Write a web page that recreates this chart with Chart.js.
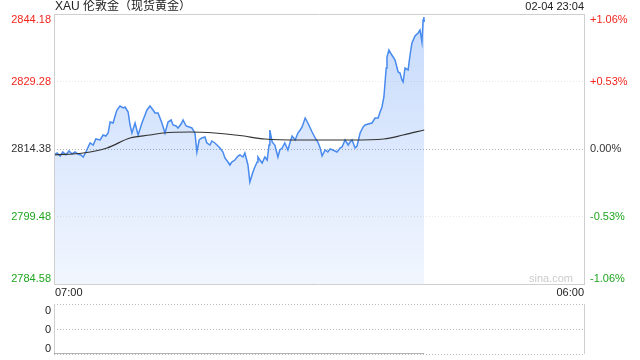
<!DOCTYPE html>
<html>
<head>
<meta charset="utf-8">
<script src="https://cdn.jsdelivr.net/npm/chart.js@4/dist/chart.umd.min.js"></script>
<style>
html,body{margin:0;padding:0;background:#fff;}
#wrap{position:relative;width:640px;height:360px;}
#main{position:absolute;left:0;top:0;}
#sub{position:absolute;left:0;top:300px;}
</style>
</head>
<body>
<div id="wrap">
<canvas id="main" width="640" height="300"></canvas>
<canvas id="sub" width="640" height="60"></canvas>
</div>
<script>
// 标题与刻度
var title = 'XAU 伦敦金（现货黄金）';
var lastTime = '02-04 23:04';
var xLabels = ['07:00', '06:00'];
var priceTicks = [2844.18, 2829.28, 2814.38, 2799.48, 2784.58];
var pctTicks = ['+1.06%', '+0.53%', '0.00%', '-0.53%', '-1.06%'];
var volTicks = ['0', '0', '0'];

// 分时价格
var times = ['07:00','07:08','07:16','07:23','07:31','07:39','07:47','07:55','08:02','08:10',
  '08:16','08:23','08:34','08:42','08:49','09:00','09:08','09:15','09:21','09:26',
  '09:34','09:39','09:44','09:52','10:00','10:05','10:13','10:18','10:23','10:31',
  '10:39','10:49','10:57','11:02','11:10','11:18','11:23','11:31','11:41','11:49',
  '11:57','12:05','12:10','12:18','12:23','12:31','12:36','12:44','12:52','12:59',
  '13:07','13:12','13:18','13:25','13:33','13:38','13:46','13:51','13:59','14:07',
  '14:12','14:20','14:25','14:33','14:38','14:43','14:51','14:59','15:04','15:12',
  '15:17','15:25','15:30','15:38','15:43','15:49','15:51','15:56','16:02','16:09',
  '16:15','16:20','16:22','16:28','16:35','16:43','16:48','16:54','17:01','17:09',
  '17:15','17:20','17:28','17:35','17:41','17:46','17:54','18:01','18:12','18:20',
  '18:27','18:33','18:38','18:46','18:53','18:59','19:06','19:17','19:25','19:30',
  '19:38','19:46','19:51','19:56','20:04','20:09','20:17','20:25','20:30','20:38',
  '20:48','20:56','21:04','21:09','21:14','21:19','21:25','21:27','21:32','21:38',
  '21:43','21:48','21:56','22:01','22:06','22:09','22:14','22:22','22:27','22:32',
  '22:40','22:48','22:53','22:58','23:01','23:03','23:04'];
var prices = [2813.06,2813.50,2812.84,2813.72,2813.06,2813.94,2813.28,2813.72,2813.28,2813.06,
  2812.61,2813.72,2815.71,2815.26,2816.59,2816.37,2817.47,2817.25,2817.91,2820.34,
  2820.12,2821.66,2822.99,2823.87,2823.43,2823.65,2822.55,2819.68,2817.91,2820.12,
  2817.47,2820.12,2821.89,2822.99,2823.87,2822.99,2822.33,2822.33,2820.12,2817.91,
  2820.34,2820.78,2819.68,2819.46,2819.02,2819.90,2820.78,2819.46,2819.24,2819.02,
  2817.91,2813.72,2816.37,2816.81,2817.03,2815.71,2815.26,2816.15,2815.71,2815.04,
  2814.60,2813.72,2812.39,2811.51,2810.85,2811.51,2811.95,2812.84,2813.06,2812.61,
  2813.50,2810.85,2807.10,2809.30,2810.41,2811.51,2812.61,2811.95,2811.29,2812.61,
  2811.95,2815.26,2818.57,2815.93,2815.26,2812.61,2814.16,2814.60,2815.71,2814.16,
  2815.93,2817.25,2816.37,2817.91,2818.57,2819.24,2821.22,2820.12,2818.13,2816.81,
  2815.93,2814.60,2812.84,2814.16,2813.72,2814.38,2814.16,2813.72,2814.60,2814.82,
  2816.37,2815.26,2815.93,2816.37,2814.60,2815.04,2817.91,2819.24,2819.68,2819.90,
  2820.12,2821.22,2821.22,2822.55,2823.65,2825.86,2832.26,2834.69,2836.23,2835.35,
  2834.69,2834.03,2831.38,2831.16,2829.61,2829.17,2832.26,2831.82,2835.13,2837.78,
  2839.32,2839.99,2840.65,2838.00,2842.86,2843.52,2842.41];

// 均价线
var avgTimes = ['07:00','08:16','09:18','10:18','11:10','11:44','12:54','13:59','15:04','16:09','17:41','19:56','21:19','22:09','23:04'];
var avgPrices = [2813.06,2813.50,2814.60,2816.81,2817.47,2817.91,2818.13,2817.91,2817.36,2816.59,2816.37,2816.37,2816.59,2817.47,2818.57];

// 成交量
var volTimes = ['07:00', '23:04'];
var volValues = [0, 0];

var FONT = 'Arial, "Liberation Sans", "Noto Sans CJK SC", sans-serif';
var RED = '#f0261d', GREEN = '#1fa51f', DARK = '#333333';

function toMin(t)
{
    var p = t.split(':');
    var m = parseInt(p[0], 10) * 60 + parseInt(p[1], 10) - 420;
    if (m < 0) m += 1440;
    return m;
}
function pairs(ts, vs)
{
    var out = [];
    for (var i = 0; i < ts.length; i++) out.push({x: toMin(ts[i]), y: vs[i]});
    return out;
}
function tickColor(i)
{
    if (priceTicks[i] > priceTicks[2]) return RED;
    if (priceTicks[i] < priceTicks[2]) return GREEN;
    return DARK;
}
function hline(ctx, x1, x2, y, color, dash)
{
    ctx.save();
    ctx.strokeStyle = color;
    ctx.lineWidth = 1;
    ctx.setLineDash(dash || []);
    ctx.beginPath();
    ctx.moveTo(x1, Math.round(y) + 0.5);
    ctx.lineTo(x2, Math.round(y) + 0.5);
    ctx.stroke();
    ctx.restore();
}
function vline(ctx, x, y1, y2, color)
{
    ctx.save();
    ctx.strokeStyle = color;
    ctx.lineWidth = 1;
    ctx.beginPath();
    ctx.moveTo(Math.round(x) + 0.5, y1);
    ctx.lineTo(Math.round(x) + 0.5, y2);
    ctx.stroke();
    ctx.restore();
}

var xMax = toMin(xLabels[1]);

// 主图网格与文字
var mainDeco = {
    id: 'mainDeco',
    beforeDatasetsDraw: function (chart)
    {
        var ctx = chart.ctx, a = chart.chartArea, ys = chart.scales.y;
        for (var i = 1; i < priceTicks.length - 1; i++)
        {
            var c = (i == 2) ? '#b0b0b0' : '#e8e8e8';
            hline(ctx, a.left, a.right + 1, ys.getPixelForValue(priceTicks[i]), c, [1, 2]);
        }
    },
    afterDraw: function (chart)
    {
        var ctx = chart.ctx, a = chart.chartArea, ys = chart.scales.y;
        // 边框
        hline(ctx, a.left, a.right + 1, a.top, '#cfcfcf');
        hline(ctx, a.left, a.right + 1, a.bottom, '#cfcfcf');
        vline(ctx, a.left, a.top, a.bottom, '#cfcfcf');
        vline(ctx, a.right, a.top, a.bottom, '#cfcfcf');

        ctx.save();
        ctx.font = '12px ' + FONT;
        ctx.fillStyle = '#222';
        ctx.textAlign = 'left';
        ctx.textBaseline = 'middle';
        ctx.fillText(title, a.left + 1, 7);
        ctx.font = '11px ' + FONT;
        ctx.textAlign = 'right';
        ctx.fillText(lastTime, a.right, 7);

        for (var i = 0; i < priceTicks.length; i++)
        {
            var py = ys.getPixelForValue(priceTicks[i]);
            var base = 'middle';
            if (i == 0) base = 'top';
            if (i == priceTicks.length - 1) base = 'bottom';
            ctx.textBaseline = base;
            ctx.fillStyle = tickColor(i);
            ctx.textAlign = 'right';
            ctx.fillText(priceTicks[i].toFixed(2), a.left - 3, py);
            ctx.textAlign = 'left';
            ctx.fillText(pctTicks[i], a.right + 6, py);
        }

        ctx.fillStyle = '#222';
        ctx.textBaseline = 'middle';
        ctx.textAlign = 'left';
        ctx.fillText(xLabels[0], a.left + 1, a.bottom + 9);
        ctx.textAlign = 'right';
        ctx.fillText(xLabels[1], a.right, a.bottom + 9);

        ctx.fillStyle = '#cccccc';
        ctx.fillText('sina.com', a.right - 11, a.bottom - 5);
        ctx.restore();
    }
};

new Chart(document.getElementById('main'), {
    type: 'line',
    data: {
        datasets: [
            {
                label: 'avg',
                data: pairs(avgTimes, avgPrices),
                borderColor: '#333333',
                borderWidth: 1.2,
                pointRadius: 0,
                cubicInterpolationMode: 'monotone',
                fill: false,
                order: 0
            },
            {
                label: 'price',
                data: pairs(times, prices),
                borderColor: 'rgb(72,138,238)',
                borderWidth: 1.5,
                pointRadius: 0,
                tension: 0,
                fill: 'start',
                order: 1,
                backgroundColor: function (context)
                {
                    var a = context.chart.chartArea;
                    if (!a) return 'rgba(66,133,244,0.15)';
                    var g = context.chart.ctx.createLinearGradient(0, a.top, 0, a.bottom);
                    g.addColorStop(0, 'rgba(66,133,244,0.30)');
                    g.addColorStop(1, 'rgba(66,133,244,0.07)');
                    return g;
                }
            }
        ]
    },
    options: {
        responsive: false,
        animation: false,
        devicePixelRatio: 1,
        layout: {padding: {left: 54, right: 56, top: 14, bottom: 16}},
        plugins: {legend: {display: false}, tooltip: {enabled: false}},
        scales: {
            x: {type: 'linear', min: 0, max: xMax, display: false},
            y: {min: priceTicks[priceTicks.length - 1], max: priceTicks[0], display: false}
        }
    },
    plugins: [mainDeco]
});

// 副图
var subDeco = {
    id: 'subDeco',
    beforeDatasetsDraw: function (chart)
    {
        var ctx = chart.ctx, a = chart.chartArea;
        hline(ctx, a.left, a.right + 1, a.top, '#bbbbbb', [1, 2]);
        hline(ctx, a.left, a.right + 1, (a.top + a.bottom) / 2, '#bbbbbb', [1, 2]);
        hline(ctx, a.left, a.right + 1, a.bottom, '#bbbbbb', [1, 2]);
        vline(ctx, a.left, a.top, a.bottom, '#cfcfcf');
        vline(ctx, a.right, a.top, a.bottom, '#cfcfcf');
    },
    afterDraw: function (chart)
    {
        var ctx = chart.ctx, a = chart.chartArea;
        ctx.save();
        ctx.font = '11px ' + FONT;
        ctx.fillStyle = '#222';
        ctx.textAlign = 'right';
        var ys = [a.top + 1, (a.top + a.bottom) / 2 + 1, a.bottom];
        var bs = ['top', 'middle', 'bottom'];
        for (var i = 0; i < volTicks.length; i++)
        {
            ctx.textBaseline = bs[i];
            ctx.fillText(volTicks[i], a.left - 3, ys[i]);
        }
        ctx.restore();
    }
};

new Chart(document.getElementById('sub'), {
    type: 'line',
    data: {
        datasets: [{
            data: pairs(volTimes, volValues),
            borderColor: '#666666',
            borderWidth: 1,
            pointRadius: 0,
            fill: false
        }]
    },
    options: {
        responsive: false,
        animation: false,
        devicePixelRatio: 1,
        layout: {padding: {left: 54, right: 56, top: 4, bottom: 6}},
        plugins: {legend: {display: false}, tooltip: {enabled: false}},
        scales: {
            x: {type: 'linear', min: 0, max: xMax, display: false},
            y: {min: 0, max: 1, display: false}
        }
    },
    plugins: [subDeco]
});
</script>
</body>
</html>
